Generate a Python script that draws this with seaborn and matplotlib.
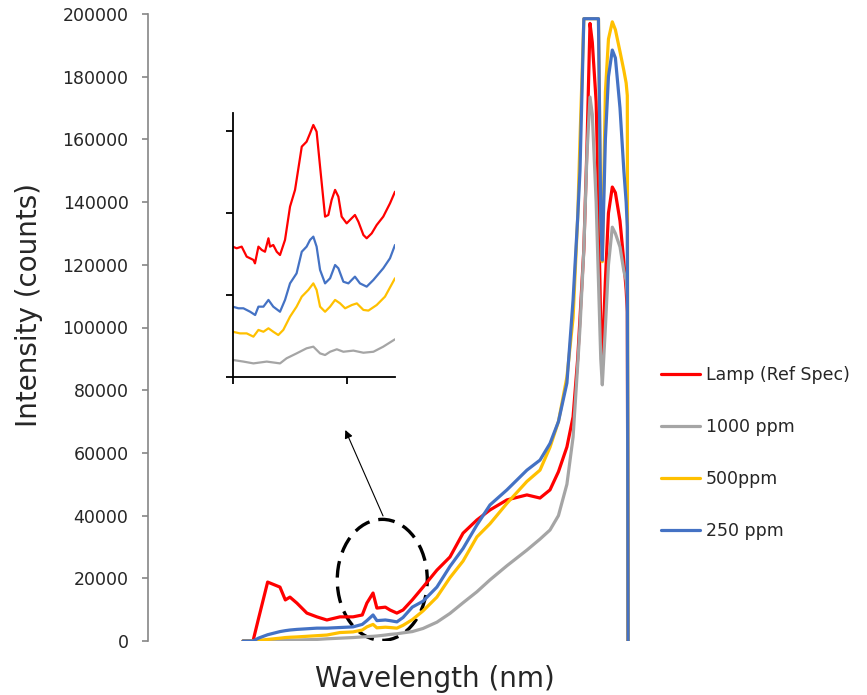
import pandas as pd
import matplotlib.pyplot as plt
import seaborn as sns
from matplotlib.patches import Ellipse

# shared wavelength grid (nm)
wavelength = [400, 413, 420, 432, 440, 448, 455, 461, 470, 483,
              496, 509, 526, 543, 555, 561, 569, 574, 585, 591,
              600, 608, 620, 634, 652, 669, 686, 704, 721, 743,
              769, 786, 799, 810, 821, 829, 835, 838, 843, 847,
              851, 854, 859, 862, 865, 867, 871, 875, 880, 884,
              890, 895, 898, 899.5, 900.5]

lamp = [0, 0, 7000, 18800, 18000, 17200, 13100, 14000, 12100, 8900,
        7700, 6700, 7700, 7700, 8300, 12100, 15300, 10500, 10800, 9900,
        8900, 9900, 13100, 17200, 22600, 26800, 34400, 38600, 41800, 45000,
        46600, 45600, 48200, 54000, 61900, 71500, 90000, 103000, 125000, 157000,
        197000, 191000, 172000, 140000, 100000, 89600, 115000, 136500, 144800, 143000,
        134000, 121000, 112000, 105000, 0]

ppm1000 = [0, 0, 0, 100, 150, 200, 250, 300, 300, 400,
           500, 700, 900, 1100, 1300, 1400, 1500, 1600, 1900, 2100,
           2300, 2600, 3000, 4000, 6000, 8800, 12200, 15700, 19500, 24000,
           29000, 32500, 35400, 40000, 50000, 65000, 88000, 100000, 124700, 155000,
           173500, 168000, 140000, 115000, 90000, 81700, 100000, 120000, 132000, 130000,
           125700, 118000, 115000, 110000, 0]

ppm500 = [0, 0, 200, 500, 700, 900, 1100, 1200, 1300, 1500,
          1700, 1900, 2700, 2900, 3500, 4500, 5300, 4200, 4400, 4300,
          4100, 5000, 6800, 9600, 14000, 20200, 25500, 33200, 37400, 43900,
          50900, 54500, 61800, 70000, 84200, 103000, 135000, 160000, 198500, 198500,
          198500, 198500, 198500, 198500, 135000, 121000, 175000, 192000, 197500, 195000,
          188000, 182000, 178000, 174000, 0]

ppm250 = [0, 0, 900, 2000, 2500, 3000, 3300, 3500, 3700, 3900,
          4100, 4100, 4300, 4500, 5300, 6500, 8300, 6500, 6700, 6500,
          6100, 7500, 10800, 12700, 17200, 23800, 29500, 37000, 43400, 48200,
          54500, 57700, 63000, 70000, 82300, 108800, 135000, 150000, 198500, 198500,
          198500, 198500, 198500, 198500, 135000, 121500, 160000, 180000, 188500, 186000,
          170000, 150000, 140000, 132000, 0]

# zoomed inset (nm, counts)
inset_red_x = [522.0, 524.3, 527.2, 530.1, 534.0, 534.9, 536.9, 538.8, 540.7, 542.7,
               543.6, 545.5, 547.5, 549.4, 552.3, 555.2, 558.1, 562.0, 564.8, 566.8,
               568.7, 570.6, 572.6, 575.5, 577.4, 579.3, 581.3, 583.2, 585.1, 588.0,
               590.9, 592.8, 594.8, 597.7, 599.6, 602.5, 605.4, 609.2, 613.1, 616.0]
inset_red_y = [7950, 7850, 7950, 7340, 7140, 6930, 7950, 7750, 7640, 8460,
               7950, 8050, 7640, 7440, 8360, 10390, 11410, 14050, 14350, 14860,
               15370, 14960, 12830, 9780, 9880, 10800, 11410, 11000, 9780, 9370,
               9680, 9880, 9470, 8660, 8460, 8760, 9270, 9780, 10590, 11300]

inset_blue_x = [522.0, 525.3, 528.2, 532.1, 535.0, 536.9, 539.8, 542.7, 545.5, 549.4,
                552.3, 555.2, 559.0, 562.0, 564.8, 566.8, 568.7, 570.6, 572.6, 575.5,
                578.4, 581.3, 583.2, 586.1, 589.0, 592.8, 595.7, 599.6, 603.5, 609.2,
                613.1, 616.0]
inset_blue_y = [4290, 4190, 4190, 3980, 3780, 4290, 4290, 4700, 4290, 3980,
                4700, 5710, 6320, 7640, 7950, 8360, 8560, 7950, 6530, 5710,
                6020, 6830, 6630, 5810, 5710, 6120, 5710, 5510, 5920, 6630,
                7240, 8050]

inset_yellow_x = [522.0, 526.2, 530.1, 534.0, 536.9, 539.8, 542.7, 545.5, 548.4, 551.3,
                  555.2, 559.0, 562.0, 565.8, 568.7, 570.6, 572.6, 575.5, 578.4, 581.3,
                  584.2, 587.1, 591.0, 593.9, 597.7, 600.6, 605.4, 610.2, 616.0]
inset_yellow_y = [2760, 2660, 2660, 2460, 2870, 2760, 2970, 2760, 2560, 2870,
                  3680, 4290, 4900, 5310, 5710, 5310, 4290, 3980, 4290, 4700,
                  4490, 4190, 4390, 4490, 4090, 4050, 4390, 4900, 6020]

inset_gray_x = [522.0, 528.2, 534.0, 541.7, 549.4, 553.2, 559.0, 564.8, 568.7, 572.6,
                575.5, 578.4, 582.3, 586.1, 591.9, 597.7, 603.5, 609.2, 616.0]
inset_gray_y = [1040, 940, 830, 940, 830, 1140, 1440, 1750, 1850, 1440,
                1340, 1540, 1690, 1540, 1610, 1480, 1540, 1850, 2300]

labels = ['Lamp (Ref Spec)', '1000 ppm', '500ppm', '250 ppm']
colors = ['#FF0000', '#A5A5A5', '#FFC000', '#4472C4']
yticks = [0, 20000, 40000, 60000, 80000, 100000, 120000, 140000, 160000, 180000, 200000]

sns.set_style('white')
plt.rcParams['font.family'] = ['DejaVu Sans']

df = pd.DataFrame({'wavelength': wavelength * 4,
                   'counts': lamp + ppm1000 + ppm500 + ppm250,
                   'series': sum([[l] * len(wavelength) for l in labels], [])})

fig = plt.figure(figsize=(8.67, 6.95), dpi=100)
ax = fig.add_axes([148 / 867, 54 / 695, 492 / 867, 627 / 695])

sns.lineplot(data=df, x='wavelength', y='counts', hue='series', hue_order=labels,
             palette=colors, estimator=None, sort=False, lw=2.3, ax=ax)

ax.set_xlim(276.5, 916)
ax.set_ylim(0, 200000)
ax.set_yticks(yticks)
ax.set_yticklabels([str(t) for t in yticks], fontsize=12.5)
ax.set_xticks([])
for s in ['top', 'right', 'bottom']:
    ax.spines[s].set_visible(False)
ax.spines['left'].set_color('#868686')
ax.spines['left'].set_linewidth(1.2)
ax.tick_params(axis='y', direction='out', length=4, width=1.2, color='#868686', pad=10, left=True)

ax.set_xlabel('Wavelength (nm)', fontsize=20)
ax.set_ylabel('Intensity (counts)', fontsize=20)
ax.xaxis.set_label_coords(0.584, -0.038)
ax.yaxis.set_label_coords(-0.213, 0.536)

leg = ax.legend(loc='upper left', bbox_to_anchor=(1.01, 0.463), frameon=False, fontsize=12.5,
                handlelength=2.3, handletextpad=0.3, labelspacing=1.95)
for h in leg.get_lines():
    h.set_linewidth(2.3)

# dashed ellipse around the zoomed region
ax.add_patch(Ellipse((581, 19500), 117, 38600, fill=False, ec='black', lw=2.4,
                     linestyle=(0, (5, 2.7))))
ax.annotate('', xy=(533, 67300), xytext=(582, 39900),
            arrowprops=dict(arrowstyle='-|>', lw=0.8, color='black', mutation_scale=12,
                            shrinkA=0, shrinkB=0))

# inset
ins = fig.add_axes([232.7 / 867, 318 / 695, 162.3 / 867, 264 / 695])
for xs, ys, c in [(inset_gray_x, inset_gray_y, colors[1]),
                  (inset_yellow_x, inset_yellow_y, colors[2]),
                  (inset_blue_x, inset_blue_y, colors[3]),
                  (inset_red_x, inset_red_y, colors[0])]:
    sns.lineplot(x=xs, y=ys, color=c, lw=1.6, estimator=None, sort=False, ax=ins)
ins.set_xlim(522, 616)
ins.set_ylim(0, 16100)
ins.set_xticks([522, 588])
ins.set_yticks([0, 5000, 10000, 15000])
ins.set_xticklabels([])
ins.set_yticklabels([])
for s in ['top', 'right']:
    ins.spines[s].set_visible(False)
for s in ['left', 'bottom']:
    ins.spines[s].set_color('black')
    ins.spines[s].set_linewidth(1.3)
ins.tick_params(direction='out', length=5, width=1.3, color='black', left=True, bottom=True)
ins.patch.set_alpha(0)

fig.savefig('out.png', dpi=100)
